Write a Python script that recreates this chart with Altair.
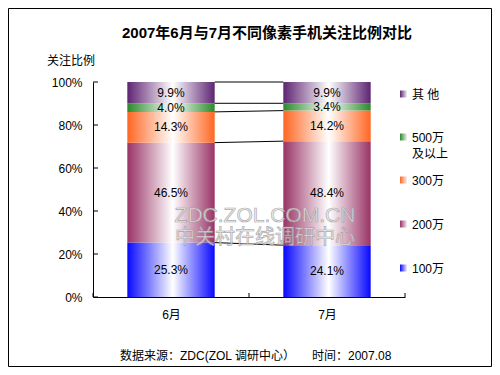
import altair as alt
import pandas as pd

# ---------------- data ----------------
months = ["6月", "7月"]
series = ["100万", "200万", "300万", "500万及以上", "其他"]
legend_text = [["100万"], ["200万"], ["300万"], ["500万", "及以上"], ["其 他"]]
june = [25.3, 46.5, 14.3, 4.0, 9.9]
july = [24.1, 48.4, 14.2, 3.4, 9.9]
y_ticks = [0, 20, 40, 60, 80, 100]
title_text = "2007年6月与7月不同像素手机关注比例对比"
y_title = "关注比例"
source_text = "数据来源：ZDC(ZOL 调研中心）"
date_text = "时间：2007.08"
wm_line1 = "ZDC.ZOL.COM.CN"
wm_line2 = "中关村在线调研中心"

# ---------------- style ----------------
colors = ["#0808ff", "#993366", "#ff6622", "#2a8a2a", "#5e2472"]
legend_y = [186, 142, 98, 55, 12]   # plot-coord centres of legend entries
FONT = "Liberation Sans, Noto Sans CJK SC"
W, H = 312, 215
HALF = 0.28

rows = []
for mi, vals in enumerate([june, july]):
    cum = 0.0
    for s, v in zip(series, vals):
        rows.append(dict(month=months[mi], idx=mi, series=s, value=v,
                         y0=cum, y1=cum + v))
        cum += v
df = pd.DataFrame(rows)
df["xa"] = df["idx"] + 0.5 - HALF
df["xb"] = df["idx"] + 0.5 + HALF
df["xc"] = df["idx"] + 0.5
df["ym"] = (df["y0"] + df["y1"]) / 2
df["label"] = df["value"].map(lambda v: f"{v:.1f}%")

conn = []
for s in series:
    a = df[(df.series == s) & (df.idx == 0)].iloc[0]
    b = df[(df.series == s) & (df.idx == 1)].iloc[0]
    conn.append(dict(series=s, xa=0.5 + HALF, xb=1.5 - HALF, ya=a.y1, yb=b.y1))
conn = pd.DataFrame(conn)

xscale = alt.Scale(domain=[0, 2], nice=False, zero=False)
yscale = alt.Scale(domain=[0, 100], nice=False)
label_expr = "[" + ",".join(f"'{m}'" for m in months) + "][floor(datum.value)]"
xaxis = alt.Axis(values=[0.5, 1.5], labelExpr=label_expr, ticks=False, grid=False,
                 domainColor="black", labelPadding=12, labelFontSize=12,
                 labelColor="black", labelFont=FONT, title=None)
yaxis = alt.Axis(values=y_ticks, labelExpr="datum.value + '%'", ticks=False, grid=False,
                 domainColor="black", labelPadding=11, labelFontSize=12,
                 labelColor="black", labelFont=FONT, title=None)


def X(f):
    return alt.X(f"{f}:Q", scale=xscale, axis=xaxis)


def Y(f):
    return alt.Y(f"{f}:Q", scale=yscale, axis=yaxis)


def grad(c, end="white", mid=0.52):
    if end == "white":
        stops = [alt.GradientStop(offset=0, color=c),
                 alt.GradientStop(offset=mid, color="white"),
                 alt.GradientStop(offset=1, color=c)]
    else:
        stops = [alt.GradientStop(offset=0, color=c),
                 alt.GradientStop(offset=1, color=end)]
    return alt.LinearGradient(gradient="linear", x1=0, x2=1, y1=0, y2=0, stops=stops)


layers = []
base = alt.Chart(df)
for s, c in zip(series, colors):
    layers.append(
        base.transform_filter(alt.datum.series == s)
        .mark_rect(fill=grad(c))
        .encode(x=X("xa"), x2="xb:Q", y=Y("y0"), y2="y1:Q")
    )

# connector lines
layers.append(
    alt.Chart(conn).mark_rule(color="black", strokeWidth=1)
    .encode(x=X("xa"), x2="xb:Q", y=Y("ya"), y2="yb:Q")
)

# value labels
layers.append(
    base.mark_text(font=FONT, fontSize=12, color="black", baseline="middle")
    .encode(x=X("xc"), y=Y("ym"), text="label:N")
)

# inward axis ticks
tick_df = pd.DataFrame({"t": y_ticks})
layers.append(
    alt.Chart(tick_df).mark_rule(color="black")
    .encode(y=Y("t"), x=alt.value(0), x2=alt.value(5))
)
xt_df = pd.DataFrame({"t": [0, 1, 2]})
layers.append(
    alt.Chart(xt_df).mark_rule(color="black")
    .encode(x=X("t"), y=alt.value(H), y2=alt.value(H - 4))
)

one = pd.DataFrame({"a": [0]})

# watermark (embossed look via light fill + grey outline)
for txt, yy, fs in [(wm_line1, 134, 21), (wm_line2, 156, 20)]:
    layers.append(alt.Chart(one).mark_text(text=txt, font=FONT, fontSize=fs, fill="#ececec",
                                           stroke="#9a9a9a", strokeWidth=0.7, opacity=0.8,
                                           align="center", baseline="middle")
                  .encode(x=alt.value(172), y=alt.value(yy)))

# legend
for lt, c, ly in zip(legend_text, colors, legend_y):
    layers.append(alt.Chart(one).mark_rect(fill=grad(c, end="#f0f0f0"))
                  .encode(x=alt.value(307), x2=alt.value(314),
                          y=alt.value(ly - 3.5), y2=alt.value(ly + 3.5)))
    layers.append(alt.Chart(one).mark_text(font=FONT, fontSize=12, color="black",
                                           align="left", baseline="alphabetic", lineHeight=16)
                  .encode(x=alt.value(319), y=alt.value(ly + 4.5),
                          text=alt.value(lt if len(lt) > 1 else lt[0])))

# titles / footer
layers.append(alt.Chart(one).mark_text(text=title_text, font=FONT, fontSize=15, fontWeight="bold",
                                       color="black", align="center", baseline="middle")
              .encode(x=alt.value(174), y=alt.value(-49)))
layers.append(alt.Chart(one).mark_text(text=y_title, font=FONT, fontSize=12, color="black",
                                       align="left", baseline="middle")
              .encode(x=alt.value(-46), y=alt.value(-21)))
layers.append(alt.Chart(one).mark_text(text=source_text, font=FONT, fontSize=12, color="black",
                                       align="left", baseline="middle")
              .encode(x=alt.value(27), y=alt.value(274)))
layers.append(alt.Chart(one).mark_text(text=date_text, font=FONT, fontSize=12, color="black",
                                       align="left", baseline="middle")
              .encode(x=alt.value(219), y=alt.value(274)))

# outer frame
layers.append(alt.Chart(one).mark_rect(fillOpacity=0, stroke="black", strokeWidth=1)
              .encode(x=alt.value(-84.5), x2=alt.value(398.5),
                      y=alt.value(-73.5), y2=alt.value(284.5)))

chart = alt.layer(*layers).properties(
    width=W, height=H,
    padding={"left": 85, "top": 74, "right": 87, "bottom": 70},
    autosize=alt.AutoSizeParams(type="none"),
    background="white",
).configure_view(stroke=None)

chart.save("out.html", embed_options={"renderer": "svg", "actions": False})
